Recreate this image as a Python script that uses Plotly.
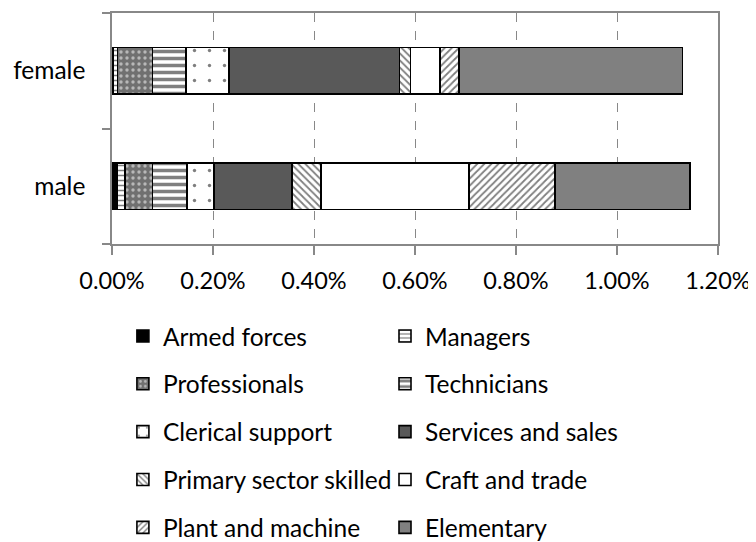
import plotly.graph_objects as go

categories = ["male", "female"]
occupations = ["Armed forces", "Managers", "Professionals", "Technicians",
               "Clerical support", "Services and sales", "Primary sector skilled",
               "Craft and trade", "Plant and machine", "Elementary"]
# share in percent (male, female)
armed_forces = [0.011, 0.002]
managers = [0.015, 0.009]
professionals = [0.054, 0.069]
technicians = [0.069, 0.067]
clerical_support = [0.053, 0.085]
services_sales = [0.154, 0.337]
primary_sector = [0.058, 0.022]
craft_trade = [0.293, 0.058]
plant_machine = [0.170, 0.038]
elementary = [0.268, 0.443]
tick_vals = [0, 0.2, 0.4, 0.6, 0.8, 1.0, 1.2]
tick_text = ["0.00%", "0.20%", "0.40%", "0.60%", "0.80%", "1.00%", "1.20%"]

series = [armed_forces, managers, professionals, technicians, clerical_support,
          services_sales, primary_sector, craft_trade, plant_machine, elementary]

styles = [
    dict(color="black", pattern=dict(shape="")),
    dict(color="white", pattern=dict(shape="-", fgcolor="black", bgcolor="white", size=5, solidity=0.3)),
    dict(color="#707070", pattern=dict(shape=".", fgcolor="white", bgcolor="#707070", size=6, solidity=0.25)),
    dict(color="white", pattern=dict(shape="-", fgcolor="black", bgcolor="white", size=7, solidity=0.5)),
    dict(color="white", pattern=dict(shape=".", fgcolor="black", bgcolor="white", size=15, solidity=0.04)),
    dict(color="#595959", pattern=dict(shape="")),
    dict(color="white", pattern=dict(shape="\\", fgcolor="black", bgcolor="white", size=5, solidity=0.35)),
    dict(color="white", pattern=dict(shape="")),
    dict(color="white", pattern=dict(shape="/", fgcolor="black", bgcolor="white", size=5, solidity=0.35)),
    dict(color="#808080", pattern=dict(shape="")),
]

FONT = "Lato"
FS = 24.5

fig = go.Figure()
for i, (name, vals, st) in enumerate(zip(occupations, series, styles)):
    fig.add_trace(go.Bar(
        y=categories, x=vals, name=name, orientation="h",
        marker=dict(color=st["color"], pattern=st["pattern"],
                    line=dict(color="black", width=1.6)),
        legend="legend" if i % 2 == 0 else "legend2",
        legendgroup=name,
    ))

legend_common = dict(
    orientation="v", xref="paper", yref="paper",
    yanchor="top", xanchor="left",
    font=dict(family=FONT, size=FS, color="black"),
    tracegroupgap=13, bgcolor="rgba(0,0,0,0)", traceorder="grouped",
    itemwidth=30,
)

fig.update_layout(
    width=748, height=534,
    barmode="stack", bargap=0.6,
    plot_bgcolor="white", paper_bgcolor="white",
    margin=dict(l=104, r=38, t=5, b=298, autoexpand=False),
    font=dict(family=FONT, size=FS, color="black"),
    showlegend=True,
    legend=dict(x=0.018, y=-0.301, **legend_common),
    legend2=dict(x=0.4505, y=-0.301, **legend_common),
    xaxis=dict(
        range=[0, 1.2], tickvals=tick_vals, ticktext=tick_text,
        showgrid=True, gridcolor="#888888", griddash="dash", gridwidth=1,
        showline=True, linecolor="#888888", linewidth=1.5, mirror=True,
        ticks="outside", ticklen=9, tickcolor="#888888", tickwidth=1.5,
        zeroline=False, fixedrange=True, ticklabelstandoff=6,
        tickfont=dict(family=FONT, size=23.5, color="black"),
    ),
    yaxis=dict(
        categoryorder="array", categoryarray=categories,
        showline=True, linecolor="#888888", linewidth=1.5, mirror=True,
        ticks="outside", ticklen=8, tickcolor="#888888", tickwidth=1.5,
        tickson="boundaries", showgrid=False, fixedrange=True,
        ticklabelstandoff=20,
        tickfont=dict(family=FONT, size=FS, color="black"),
    ),
)

fig.write_html("out.html")
